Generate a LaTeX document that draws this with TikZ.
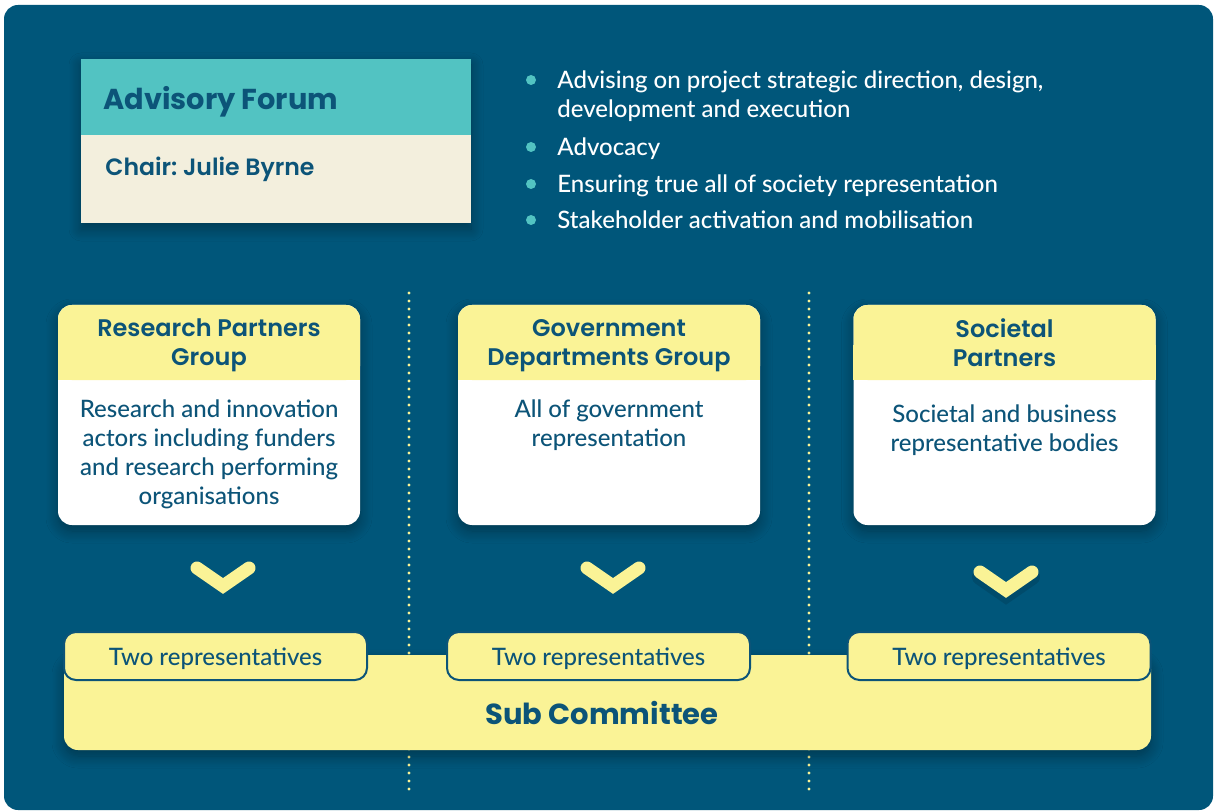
\documentclass[tikz,border=0pt]{standalone}
\usepackage{fontspec}
\setmainfont{Lato}[UprightFont=* Medium, BoldFont=* Bold]
\newfontfamily\popfont{Poppins}[UprightFont=* SemiBold, BoldFont=* Bold]
\usepackage{tikz}
\usetikzlibrary{positioning}
\usetikzlibrary{shadows.blur}
\frenchspacing

\definecolor{bgblue}{RGB}{0,86,122}
\definecolor{tealhead}{RGB}{82,195,194}
\definecolor{creambox}{RGB}{243,239,221}
\definecolor{yelbox}{RGB}{250,243,150}
\definecolor{inkblue}{RGB}{12,84,120}

\tikzset{
  softshade/.style={blur shadow={shadow blur steps=10, shadow xshift=0pt, shadow yshift=-3pt, shadow opacity=35, shadow blur radius=6pt}},
  grpbody/.style={rectangle, rounded corners=7pt, fill=white, minimum width=151pt, minimum height=110pt, inner sep=0pt, softshade},
  grphead/.style={rectangle, rounded corners=7pt, fill=yelbox, minimum width=151pt, minimum height=37.5pt, inner sep=0pt},
  grptitle/.style={align=center, text=inkblue, inner sep=0pt, font=\popfont\fontsize{12}{14.5}\selectfont},
  grptext/.style={align=center, text=inkblue, inner sep=0pt, font=\fontsize{12}{14.5}\selectfont},
  bultext/.style={anchor=west, align=left, text=white, inner sep=0pt, text height=10pt, text depth=1pt, font=\fontsize{12}{14.5}\selectfont},
  bulletdot/.style={circle, fill=tealhead, minimum size=5pt, inner sep=0pt},
  chevron/.style={draw=yelbox, line width=6.5pt, line cap=round, line join=miter},
  divider/.style={draw=yelbox, line width=1.6pt, line cap=round, dash pattern=on 0pt off 4pt},
  repbox/.style={rectangle, rounded corners=6pt, fill=yelbox, draw=inkblue, line width=1pt, minimum width=151.5pt, minimum height=24pt, inner sep=0pt, text height=10pt, text depth=1pt, text=inkblue, font=\fontsize{12}{13}\selectfont}
}

\begin{document}
\begin{tikzpicture}[x=0.5pt,y=-0.5pt]
\useasboundingbox (0,0) rectangle (1214,812);
\fill[bgblue, rounded corners=7pt] (4,5) rectangle (1213,810);

% advisory forum
\node [rectangle, fill=creambox, minimum width=195pt, minimum height=82pt, inner sep=0pt, softshade] (AFbox) at (276,141) {};
\node [rectangle, fill=tealhead, minimum width=195pt, minimum height=38pt, inner sep=0pt, anchor=north] (AFhead) at (AFbox.north) {};
\node [anchor=west, inner sep=0pt, text=inkblue, font=\popfont\bfseries\fontsize{14.4}{16}\selectfont] (AFtitle) at (103,102) {Advisory Forum};
\node [anchor=west, inner sep=0pt, text=inkblue, font=\popfont\fontsize{11.8}{13}\selectfont] (AFchair) at (105,169) {Chair: Julie Byrne};

% roles
\node [bulletdot] (d1) at (531,80) {};
\node [bulletdot] (d2) at (531,147) {};
\node [bulletdot] (d3) at (531,184) {};
\node [bulletdot] (d4) at (531,220) {};
\node [bultext] (b1) at (557,80) {Advising on project strategic direction, design,};
\node [bultext] (b1b) at (557,109) {development and execution};
\node [bultext] (b2) at (557,147) {Advocacy};
\node [bultext] (b3) at (557,184) {Ensuring true all of society representation};
\node [bultext] (b4) at (557,220) {Stakeholder activation and mobilisation};

% dividers
\coordinate (divAtop) at (409,293);
\coordinate (divAbot) at (409,790);
\coordinate (divBtop) at (809,293);
\coordinate (divBbot) at (809,790);
\draw [divider] (divAtop) -- (divAbot);
\draw [divider] (divBtop) -- (divBbot);

% groups
\node [grpbody] (RPbody) at (209,415) {};
\fill [yelbox] (58,345) rectangle (360,380);
\node [grphead] (RPhead) at (209,342.5) {};
\node [grptitle] (RPtitle) at (209,345) {Research Partners\\Group};
\node [grptext] (RPtext) at (209,454.5) {Research and innovation\\actors including funders\\and research performing\\organisations};

\node [grpbody] (GDbody) at (609,415) {};
\fill [yelbox] (458,345) rectangle (760,380);
\node [grphead] (GDhead) at (609,342.5) {};
\node [grptitle] (GDtitle) at (609,346) {Government\\Departments Group};
\node [grptext] (GDtext) at (609,425.5) {All of government\\representation};

\node [grpbody] (SPbody) at (1004.5,415) {};
\fill [yelbox] (853,345) rectangle (1156,380);
\node [grphead] (SPhead) at (1004.5,342.5) {};
\node [grptitle] (SPtitle) at (1004.5,343) {Societal\\Partners};
\node [grptext] (SPtext) at (1004.5,430.5) {Societal and business\\representative bodies};

% chevrons
\draw [chevron] (197,568) -- (223,586) -- (249,568);
\draw [chevron] (587,568) -- (613,586) -- (639,568);
\draw [chevron, draw=black, opacity=0.12, line width=8pt] (980,577) -- (1006,595) -- (1032,577);
\draw [chevron] (980,572) -- (1006,590) -- (1032,572);

% sub committee
\node [rectangle, rounded corners=7pt, fill=yelbox, minimum width=543.5pt, minimum height=47.5pt, inner sep=0pt, softshade] (SCbar) at (607.5,702.5) {};
\node [inner sep=0pt, text=inkblue, font=\popfont\bfseries\fontsize{14.5}{16}\selectfont] (SCtext) at (602,713) {Sub Committee};
\node [repbox] (rep1) at (215.5,656) {Two representatives};
\node [repbox] (rep2) at (598.5,656) {Two representatives};
\node [repbox] (rep3) at (999,656) {Two representatives};
\end{tikzpicture}
\end{document}
